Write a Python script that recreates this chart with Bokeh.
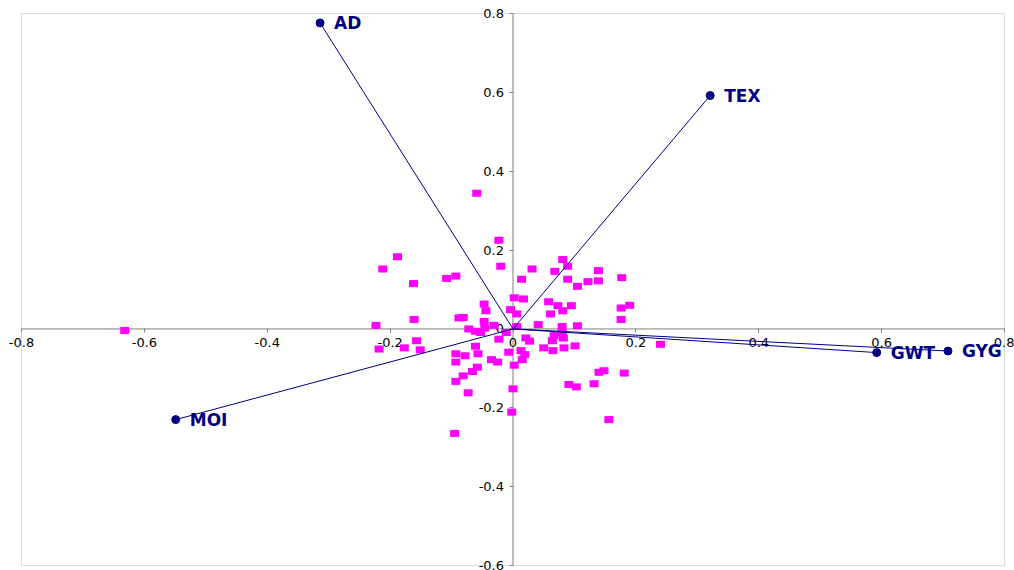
from bokeh.plotting import figure
from bokeh.models import Range1d, FixedTicker, CustomJSTickFormatter, ColumnDataSource, BoxAnnotation
from bokeh.core.properties import value
from bokeh.embed import file_html
from bokeh.resources import INLINE

# ---- data ----
x_ticks = [-0.8, -0.6, -0.4, -0.2, 0.0, 0.2, 0.4, 0.6, 0.8]
y_ticks = [-0.6, -0.4, -0.2, 0.0, 0.2, 0.4, 0.6, 0.8]

var_names = ["AD", "TEX", "GWT", "GYG", "MOI"]
var_x = [-0.314, 0.321, 0.592, 0.708, -0.549]
var_y = [0.776, 0.592, -0.060, -0.056, -0.230]

obs_x = [-0.223, -0.161, -0.157, -0.151, -0.218, -0.177, -0.088, -0.081, -0.047, -0.044,
         -0.047, -0.072, -0.061, -0.053, -0.046, -0.031, -0.011, -0.023, 0.002, -0.004,
         0.006, 0.006, -0.061, -0.093, -0.078, -0.057, -0.093, -0.035, -0.025, -0.058,
         -0.066, -0.081, -0.093, -0.073, -0.007, 0.002, 0.000, -0.002, -0.095,
         0.017, 0.058, 0.073, 0.081, 0.095, 0.061, 0.041, 0.080, 0.105, 0.080,
         0.067, 0.082, 0.021, 0.027, 0.064, 0.050, 0.065, 0.083, 0.101, 0.013,
         0.019, 0.015, 0.176, 0.190, 0.176, 0.240, 0.140, 0.148, 0.181, 0.132,
         0.091, 0.103, 0.156,
         0.081, 0.089, 0.031, 0.068, 0.139, 0.014, 0.089, 0.105, 0.122, 0.139, 0.177,
         -0.059, -0.023, -0.020, -0.188, -0.212, -0.162, -0.108, -0.093,
         -0.632]
obs_y = [0.009, 0.024, -0.030, -0.053, -0.051, -0.048, 0.028, 0.029, 0.063, 0.046,
         0.019, 0.000, -0.006, -0.009, 0.002, 0.009, -0.009, -0.026, 0.079, 0.049,
         0.038, 0.006, -0.044, -0.063, -0.068, -0.063, -0.084, -0.078, -0.084, -0.097,
         -0.108, -0.119, -0.133, -0.162, -0.059, -0.092, -0.152, -0.211, -0.265,
         0.076, 0.069, 0.059, 0.046, 0.059, 0.038, 0.011, 0.006, 0.008, -0.009,
         -0.017, -0.023, -0.023, -0.031, -0.030, -0.048, -0.055, -0.048, -0.043, -0.055,
         -0.065, -0.078, 0.053, 0.060, 0.024, -0.039, -0.110, -0.106, -0.112, -0.139,
         -0.141, -0.147, -0.230,
         0.176, 0.159, 0.152, 0.146, 0.148, 0.126, 0.126, 0.108, 0.120, 0.122, 0.130,
         0.344, 0.225, 0.159, 0.183, 0.152, 0.115, 0.128, 0.134,
         -0.004]

NAVY = "#000080"
MAGENTA = "#FF00FF"
GRAY = "#8c8c8c"
TICK_FONT = "DejaVu Sans"
TICK_SIZE = "13px"

W, H = 1014, 570
# plot-area box in canvas pixels (the frame itself covers the whole canvas so
# that tick labels at the box edges are not clipped)
BOX_L, BOX_R, BOX_T, BOX_B = 21.0, 1004.0, 13.0, 565.0
x_lo, x_hi = x_ticks[0], x_ticks[-1]
y_lo, y_hi = y_ticks[0], y_ticks[-1]
sx = (BOX_R - BOX_L) / (x_hi - x_lo)
sy = (BOX_B - BOX_T) / (y_hi - y_lo)
xr = Range1d(x_lo - BOX_L / sx, x_hi + (W - BOX_R) / sx)
yr = Range1d(y_lo - (H - BOX_B) / sy, y_hi + BOX_T / sy)

p = figure(width=W, height=H, output_backend="svg", toolbar_location=None,
           x_range=xr, y_range=yr,
           min_border_left=0, min_border_top=0, min_border_right=0, min_border_bottom=0)
p.background_fill_color = "white"
p.border_fill_color = "white"
p.outline_line_color = None
p.xgrid.visible = False
p.ygrid.visible = False

p.add_layout(BoxAnnotation(left=x_lo, right=x_hi, bottom=y_lo, top=y_hi,
                           fill_color=None, line_color=GRAY, line_width=1))

fmt = CustomJSTickFormatter(code="return Math.abs(tick) < 1e-9 ? '0' : tick.toFixed(1);")
for ax, ticks in ((p.xaxis[0], x_ticks), (p.yaxis[0], y_ticks)):
    ax.fixed_location = 0
    ax.ticker = FixedTicker(ticks=ticks)
    ax.formatter = fmt
    ax.axis_line_color = None
    ax.major_tick_line_color = "#808080"
    ax.major_tick_in = 0
    ax.major_tick_out = 4
    ax.minor_tick_line_color = None
    ax.major_label_text_font = TICK_FONT
    ax.major_label_text_font_size = TICK_SIZE
    ax.major_label_text_color = "#000000"
    ax.level = "underlay"
p.xaxis[0].major_label_standoff = 5
p.yaxis[0].major_label_standoff = 5

# axis lines limited to the plot box
p.segment(x0=[x_lo, 0.0], y0=[0.0, y_lo], x1=[x_hi, 0.0], y1=[0.0, y_hi],
          line_color="#808080", line_width=1, level="underlay")

obs = ColumnDataSource(dict(x=obs_x, y=obs_y))
p.rect("x", "y", width=9, height=7, width_units="screen", height_units="screen",
       source=obs, fill_color=MAGENTA, line_color=None)

vs = ColumnDataSource(dict(x0=[0.0] * len(var_x), y0=[0.0] * len(var_y),
                           x=var_x, y=var_y, name=var_names))
p.segment("x0", "y0", "x", "y", source=vs, line_color=NAVY, line_width=1)
p.scatter("x", "y", source=vs, size=8, marker="circle", fill_color=NAVY, line_color=NAVY)
p.text("x", "y", text="name", source=vs, x_offset=14, text_baseline="middle",
       text_align="left", text_color=NAVY, text_font=value("DejaVu Sans"),
       text_font_style="bold", text_font_size="17px")

open("out.html", "w").write(file_html(p, INLINE))
